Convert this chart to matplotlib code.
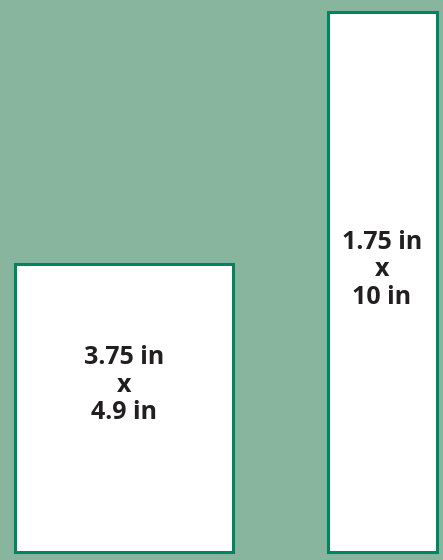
import matplotlib.pyplot as plt
from matplotlib.patches import Rectangle

# panel sizes (inches) shown as labels
widths = ['3.75', '1.75']
heights = ['4.9', '10']

# box layout in pixels: left, top, right, bottom
boxes = [(15, 264, 233, 552), (328, 12, 437, 552)]
label_pos = [(124, 385), (382, 270)]

bg = '#87b59e'
edge = '#00855f'

fig = plt.figure(figsize=(4.43, 5.6), dpi=100)
fig.patch.set_facecolor(bg)
ax = fig.add_axes([0, 0, 1, 1])
ax.set_xlim(0, 443)
ax.set_ylim(560, 0)
ax.axis('off')

for (x0, y0, x1, y1), w, h, (tx, ty) in zip(boxes, widths, heights, label_pos):
    ax.add_patch(Rectangle((x0, y0), x1 - x0, y1 - y0, facecolor='white',
                           edgecolor=edge, linewidth=2.2))
    ax.text(tx, ty, f'{w} in\nx\n{h} in', ha='center', va='center',
            fontsize=18, fontweight='bold', family='Open Sans',
            color='#231f20', linespacing=1.14)

fig.savefig('out.png', dpi=100, facecolor=bg)
